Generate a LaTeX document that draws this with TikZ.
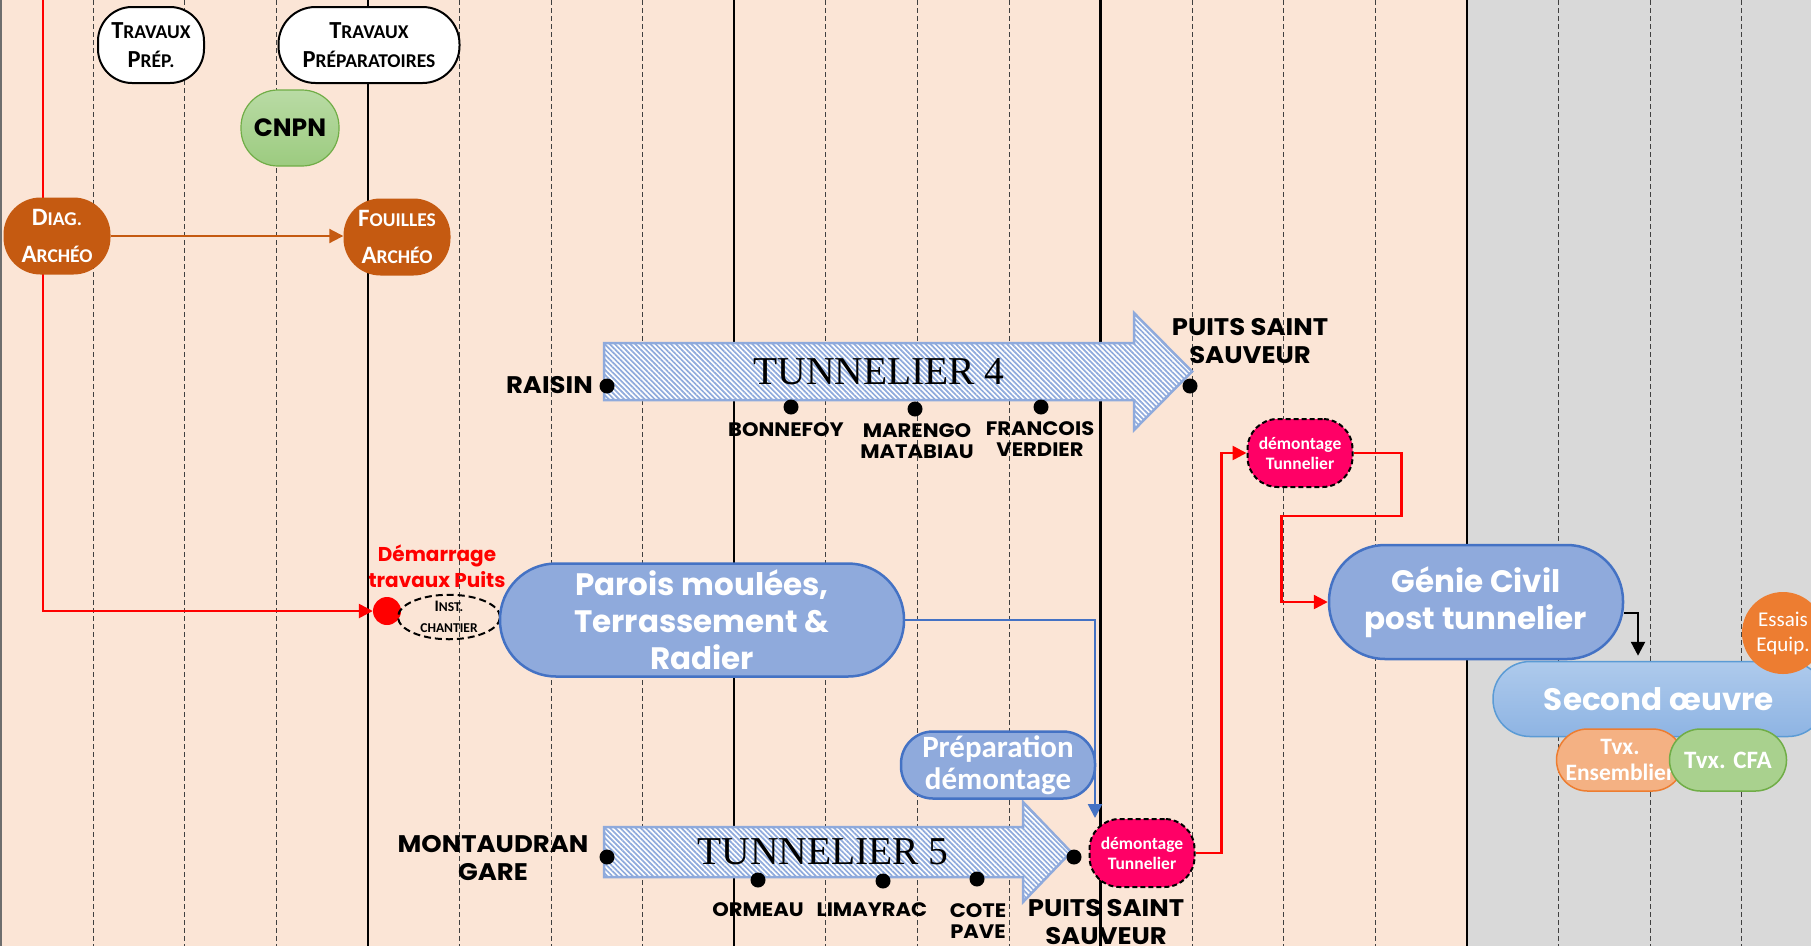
\documentclass[tikz,border=0pt]{standalone}
\usepackage{fontspec}
\setmainfont{Carlito}
\newfontfamily\geofont{Poppins}
\newfontfamily\geowide{Poppins}[FakeStretch=1.08]
\newfontfamily\romanfont{Liberation Serif}
\usetikzlibrary{
  arrows.meta,
  patterns.meta,
  positioning,
  shapes.geometric,
}
\definecolor{peach}{HTML}{FBE5D6}
\definecolor{greyzone}{HTML}{D9D9D9}
\definecolor{edgegrey}{HTML}{6E6E6E}
\definecolor{archeo}{HTML}{C55A11}
\definecolor{cnpntop}{HTML}{B9DBA5}
\definecolor{cnpnbot}{HTML}{9CCB7F}
\definecolor{cnpnline}{HTML}{70AD47}
\definecolor{gcfill}{HTML}{8FAADC}
\definecolor{gcline}{HTML}{4472C4}
\definecolor{demonte}{HTML}{FF0066}
\definecolor{sotop}{HTML}{AECAEC}
\definecolor{sobot}{HTML}{8EB4E3}
\definecolor{soline}{HTML}{5B9BD5}
\definecolor{essais}{HTML}{ED7D31}
\definecolor{ensfill}{HTML}{F4B183}
\definecolor{cfafill}{HTML}{A9D18E}
\definecolor{tunblue}{HTML}{8FAADC}
\pgfdeclarelayer{grid}
\pgfdeclarelayer{links}
\pgfsetlayers{grid,links,main}
\newcommand{\fauxsc}[3]{#2{\fontsize{#1}{#1}\selectfont #3}}
\tikzset{
  >={Triangle[length=14pt,width=14pt]},
  box/.style={rectangle, inner sep=0pt, align=center},
  gridline/.style={black!75, line width=0.8pt, dash pattern=on 5pt off 3pt},
  milestone/.style={black, line width=2.4pt},
  prepbox/.style={box, fill=white, draw=black, line width=2pt,
    font=\bfseries\fontsize{24.5}{29}\selectfont},
  archeobox/.style={box, fill=archeo, text=white, rounded corners=37pt,
    minimum width=107pt, minimum height=77pt,
    font=\bfseries\fontsize{25}{37}\selectfont},
  cnpnbox/.style={box, top color=cnpntop, bottom color=cnpnbot, draw=cnpnline,
    line width=1.2pt, rounded corners=37pt, minimum width=98pt, minimum height=76pt,
    font=\geofont\bfseries\fontsize{25}{25}\selectfont},
  bigblue/.style={box, fill=gcfill, draw=gcline, line width=2.5pt, text=white,
    font=\geofont\bfseries\fontsize{31}{37}\selectfont},
  demont/.style={box, fill=demonte, draw=black, line width=2pt,
    dash pattern=on 5pt off 3pt, rounded corners=30pt, text=white,
    minimum width=105pt, minimum height=68pt,
    font=\bfseries\fontsize{17.5}{20}\selectfont},
  stop/.style={circle, fill=black, inner sep=0pt, minimum size=15pt},
  stoplbl/.style={box, font=\geowide\bfseries\fontsize{19.5}{21}\selectfont},
  endlbl/.style={box, font=\geowide\bfseries\fontsize{24}{28}\selectfont},
  tunnel/.style={draw=tunblue, line width=2.5pt, preaction={fill=white},
    pattern={Lines[angle=-45,distance=3.6pt,line width=1.7pt]},
    pattern color=tunblue},
  tunlbl/.style={box, font=\romanfont\fontsize{39.5}{39.5}\selectfont},
  redlink/.style={red, line width=2.5pt, ->},
}

\begin{document}
\begin{tikzpicture}[x=1pt,y=-1pt]
  \useasboundingbox (0,0) rectangle (1811,946);
  \clip (0,0) rectangle (1811,946);

  % calendar background
  \begin{pgfonlayer}{grid}
    \fill[peach] (0,0) rectangle (1466,946);
    \fill[greyzone] (1466,0) rectangle (1811,946);
    \draw[edgegrey, line width=2.5pt] (1.2,0) -- (1.2,946);
    \foreach \k in {0,1,2,4,5,6,8,9,10,12,13,14,16,17,18}
      \draw[gridline] (93+91.6*\k,0) -- (93+91.6*\k,946);
    \foreach \k in {3,7,11,15}
      \draw[milestone] (93+91.6*\k,0) -- (93+91.6*\k,946);
  \end{pgfonlayer}

  % travaux preparatoires
  \node[prepbox, rounded corners=34pt, minimum width=106pt, minimum height=76pt]
        (prepA) at (151,45) {\fauxsc{19.5}{T}{RAVAUX}\\\fauxsc{19.5}{P}{RÉP.}};
  \node[prepbox, rounded corners=37pt, minimum width=181pt, minimum height=76pt]
        (prepB) at (369,45) {\fauxsc{19.5}{T}{RAVAUX}\\\fauxsc{19.5}{P}{RÉPARATOIRES}};
  \node[cnpnbox] (cnpn) at (290,128) {CNPN};
  \node[archeobox] (diag) at (57,236) {\fauxsc{19.5}{D}{IAG.}\\\fauxsc{19.5}{A}{RCHÉO}};
  \node[archeobox] (fouilles) at (397,237) {\fauxsc{19.5}{F}{OUILLES}\\\fauxsc{19.5}{A}{RCHÉO}};

  % puits
  \node[circle, fill=red, inner sep=0pt, minimum size=28pt] (depart) at (387,611) {};
  \node[box, text=red, font=\geofont\bfseries\fontsize{20}{26}\selectfont]
        (departlbl) at (437,566) {Démarrage\\travaux Puits};
  \node[ellipse, draw=black, line width=2pt, dash pattern=on 7pt off 4pt,
        inner sep=0pt, minimum width=102pt, minimum height=39pt, align=center,
        font=\bfseries\fontsize{16}{21}\selectfont]
        (inst) at (449,617) {\fauxsc{13.5}{I}{NST.}\\\fauxsc{13.5}{}{CHANTIER}};
  \node[bigblue, rounded corners=56pt, minimum width=404pt, minimum height=113pt]
        (parois) at (702,620) {Parois moulées,\\Terrassement \&\\Radier};

  % tunnelier 4
  \draw[tunnel] (604,343) -- (1134,343) -- (1134,313) -- (1192,371.5)
    -- (1134,430) -- (1134,400) -- (604,400) -- cycle;
  \node[tunlbl] (t4) at (879,372) {TUNNELIER 4};
  \node[stop] (raisin) at (607,386) {};
  \node[stop] (bonnefoy) at (791,407) {};
  \node[stop] (marengo) at (915,409) {};
  \node[stop] (francois) at (1041,407) {};
  \node[stop] (pssA) at (1190,386) {};
  \node[endlbl, anchor=east] (raisinlbl) at (593,385) {RAISIN};
  \node[stoplbl] (bonnefoylbl) at (786,430) {BONNEFOY};
  \node[stoplbl] (marengolbl) at (917,441) {MARENGO\\MATABIAU};
  \node[stoplbl] (francoislbl) at (1040,439) {FRANCOIS\\VERDIER};
  \node[endlbl] (pssAlbl) at (1250,341) {PUITS SAINT\\SAUVEUR};

  % tunnelier 5
  \draw[tunnel] (604,827) -- (1023,827) -- (1023,802) -- (1071,852)
    -- (1023,902) -- (1023,877) -- (604,877) -- cycle;
  \node[tunlbl] (t5) at (823,852) {TUNNELIER 5};
  \node[stop] (montaudran) at (607,857) {};
  \node[stop] (ormeau) at (758,880) {};
  \node[stop] (limayrac) at (883,881) {};
  \node[stop] (cote) at (977,879) {};
  \node[stop] (pssB) at (1074,857) {};
  \node[endlbl] (montaudranlbl) at (493,858) {MONTAUDRAN\\GARE};
  \node[stoplbl] (ormeaulbl) at (758,910) {ORMEAU};
  \node[stoplbl] (limayraclbl) at (872,910) {LIMAYRAC};
  \node[stoplbl] (cotelbl) at (978,921) {COTE\\PAVE};
  \node[endlbl] (pssBlbl) at (1106,922) {PUITS SAINT\\SAUVEUR};

  % demontage et genie civil
  \node[box, fill=gcfill, draw=gcline, line width=2.5pt, text=white,
        rounded corners=32pt, minimum width=194pt, minimum height=67pt,
        font=\bfseries\fontsize{31}{32}\selectfont]
        (prepdem) at (998,765) {Préparation\\démontage};
  \node[demont] (demB) at (1142,853) {démontage\\Tunnelier};
  \node[demont] (demA) at (1300,453) {démontage\\Tunnelier};
  \node[bigblue, rounded corners=56pt, minimum width=294pt, minimum height=114pt]
        (genie) at (1476,602) {Génie Civil\\post tunnelier};

  % second oeuvre
  \node[box, top color=sotop, bottom color=sobot, draw=soline, line width=1.5pt,
        rounded corners=37pt, minimum width=332pt, minimum height=75pt, text=white,
        font=\geofont\bfseries\fontsize{31}{31}\selectfont]
        (second) at (1659,699) {Second œuvre};
  \node[circle, fill=essais, inner sep=0pt, minimum size=82pt, align=center,
        text=white, font=\fontsize{21}{25}\selectfont]
        (essais) at (1783,633) {Essais\\Equip.};
  \node[box, fill=ensfill, draw=essais, line width=1.5pt, rounded corners=31pt,
        minimum width=127pt, minimum height=62pt, text=white,
        font=\bfseries\fontsize{23.5}{26}\selectfont]
        (ens) at (1620,760) {Tvx.\\Ensemblier};
  \node[box, fill=cfafill, draw=cnpnline, line width=1.5pt, rounded corners=31pt,
        minimum width=117pt, minimum height=62pt, text=white,
        font=\bfseries\fontsize{25}{26}\selectfont]
        (cfa) at (1728,760) {Tvx. CFA};

  % liens
  \begin{pgfonlayer}{links}
    \coordinate (redtop) at (43,0);
    \draw[redlink] (redtop) |- (depart);
    \draw[archeo, line width=2pt, ->] (diag.east) -- (diag.east -| fouilles.west);
    \draw[gcline, line width=2.5pt, ->] (parois.east) -| ([xshift=-47pt]demB.north);
    \draw[redlink] (demB.east) -- ++(26,0) |- (demA.west);
    \draw[redlink] (demA.east) -- ++(48,0) -- ++(0,63) -- ++(-120,0) |- (genie.west);
    \draw[black, line width=2.5pt, ->, shorten >=5pt]
      ([yshift=-11pt]genie.east) -| ([xshift=-21pt]second.north);
  \end{pgfonlayer}
\end{tikzpicture}
\end{document}
